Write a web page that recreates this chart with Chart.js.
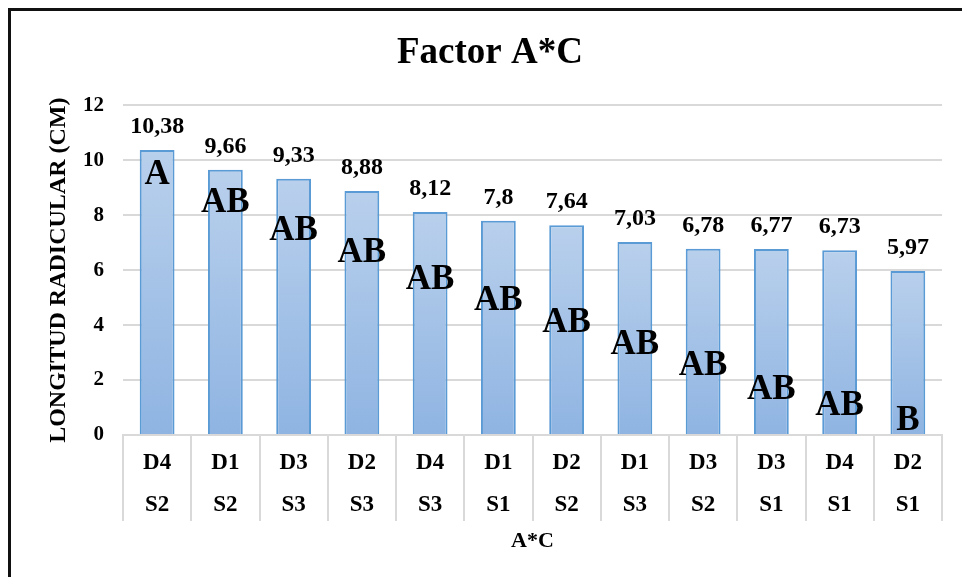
<!DOCTYPE html>
<html>
<head>
<meta charset="utf-8">
<script src="https://cdn.jsdelivr.net/npm/chart.js@4.4.0/dist/chart.umd.min.js"></script>
<style>
    html, body { margin: 0; padding: 0; background: #fff; overflow: hidden; }
    #frame { position: absolute; left: 8px; top: 8px; width: 1000px; height: 1000px; border: 3px solid #111; box-sizing: border-box; }
    #wrap { position: absolute; left: 0; top: 0; width: 962px; height: 577px; }
</style>
</head>
<body>
<div id="frame"></div>
<div id="wrap"><canvas id="myChart" width="962" height="577"></canvas></div>
<script>
const dosis = ['D4', 'D1', 'D3', 'D2', 'D4', 'D1', 'D2', 'D1', 'D3', 'D3', 'D4', 'D2'];
const sustratos = ['S2', 'S2', 'S3', 'S3', 'S3', 'S1', 'S2', 'S3', 'S2', 'S1', 'S1', 'S1'];
const longitud = [10.38, 9.66, 9.33, 8.88, 8.12, 7.8, 7.64, 7.03, 6.78, 6.77, 6.73, 5.97];
// letras de significancia y la altura (en cm) donde aparecen
const letras = ['A', 'AB', 'AB', 'AB', 'AB', 'AB', 'AB', 'AB', 'AB', 'AB', 'AB', 'B'];
const letraPos = [9.56, 8.55, 7.53, 6.73, 5.75, 4.98, 4.18, 3.38, 2.62, 1.75, 1.16, 0.62];
const yTicks = [0, 2, 4, 6, 8, 10, 12];

const serif = '"Liberation Serif", "Times New Roman", serif';
const labels = dosis.map((d, i) => [d, sustratos[i]]);

const etiquetas = {
    id: 'etiquetas',
    afterDatasetsDraw(chart) {
        const ctx = chart.ctx;
        const bars = chart.getDatasetMeta(0).data;
        const marks = chart.getDatasetMeta(1).data;
        ctx.save();
        ctx.fillStyle = '#000';
        ctx.textAlign = 'center';
        ctx.textBaseline = 'middle';
        ctx.font = 'bold 24px ' + serif;
        bars.forEach((bar, i) => {
            ctx.fillText(String(longitud[i]).replace('.', ','), bar.x, bar.y - 23);
        });
        ctx.font = 'bold 35px ' + serif;
        marks.forEach((pt, i) => {
            ctx.fillText(letras[i], pt.x, pt.y + 3);
        });
        ctx.restore();
    }
};

const barFill = (c) => {
    const chart = c.chart;
    if (!chart.chartArea || c.type !== 'data') return '#a5c3e8';
    const top = chart.scales.y.getPixelForValue(c.parsed.y);
    const bottom = chart.scales.y.getPixelForValue(0);
    const g = chart.ctx.createLinearGradient(0, top, 0, bottom);
    g.addColorStop(0, '#b9d0ec');
    g.addColorStop(1, '#8fb4e2');
    return g;
};

const myChart = new Chart(document.getElementById('myChart').getContext('2d'), {
    type: 'bar',
    data: {
        labels: labels,
        datasets: [
            {
                label: 'Longitud radicular',
                data: longitud,
                backgroundColor: barFill,
                borderColor: '#5b9bd5',
                borderWidth: 2,
                barPercentage: 0.51,
                categoryPercentage: 1.0
            },
            {
                type: 'line',
                label: 'Letras',
                data: letraPos,
                showLine: false,
                pointRadius: 0,
                pointHoverRadius: 0
            }
        ]
    },
    options: {
        responsive: false,
        devicePixelRatio: 1,
        animation: false,
        layout: { padding: { top: 12, right: 20, left: 38, bottom: 0 } },
        plugins: {
            legend: { display: false },
            tooltip: { enabled: false },
            title: {
                display: true,
                text: 'Factor A*C',
                color: '#000',
                font: { family: serif, size: 37, weight: 'bold' },
                padding: { top: 19, bottom: 30 }
            }
        },
        scales: {
            x: {
                offset: true,
                grid: { offset: true, drawOnChartArea: false, drawTicks: true, tickLength: 86, color: '#d9d9d9', lineWidth: 2 },
                border: { display: true, color: '#d9d9d9', width: 2 },
                ticks: {
                    padding: -79,
                    color: '#000',
                    maxRotation: 0,
                    autoSkip: false,
                    font: { family: serif, size: 23, weight: 'bold', lineHeight: '42px' }
                },
                title: {
                    display: true,
                    text: 'A*C',
                    color: '#000',
                    font: { family: serif, size: 22, weight: 'bold' },
                    padding: { top: 0, bottom: 22 }
                },
                afterFit: (s) => { s.height = 142; }
            },
            y: {
                min: 0,
                max: 12,
                afterBuildTicks: (s) => { s.ticks = yTicks.map(v => ({ value: v })); },
                grid: { color: '#d9d9d9', lineWidth: 2, drawTicks: false },
                border: { display: false },
                ticks: {
                    padding: 19,
                    color: '#000',
                    font: { family: serif, size: 21, weight: 'bold' }
                },
                title: {
                    display: true,
                    text: 'LONGITUD RADICULAR (CM)',
                    color: '#000',
                    font: { family: serif, size: 24, weight: 'bold' },
                    padding: { top: 6, bottom: 0 }
                },
                afterFit: (s) => { s.width = 85; }
            }
        }
    },
    plugins: [etiquetas]
});
</script>
</body>
</html>
